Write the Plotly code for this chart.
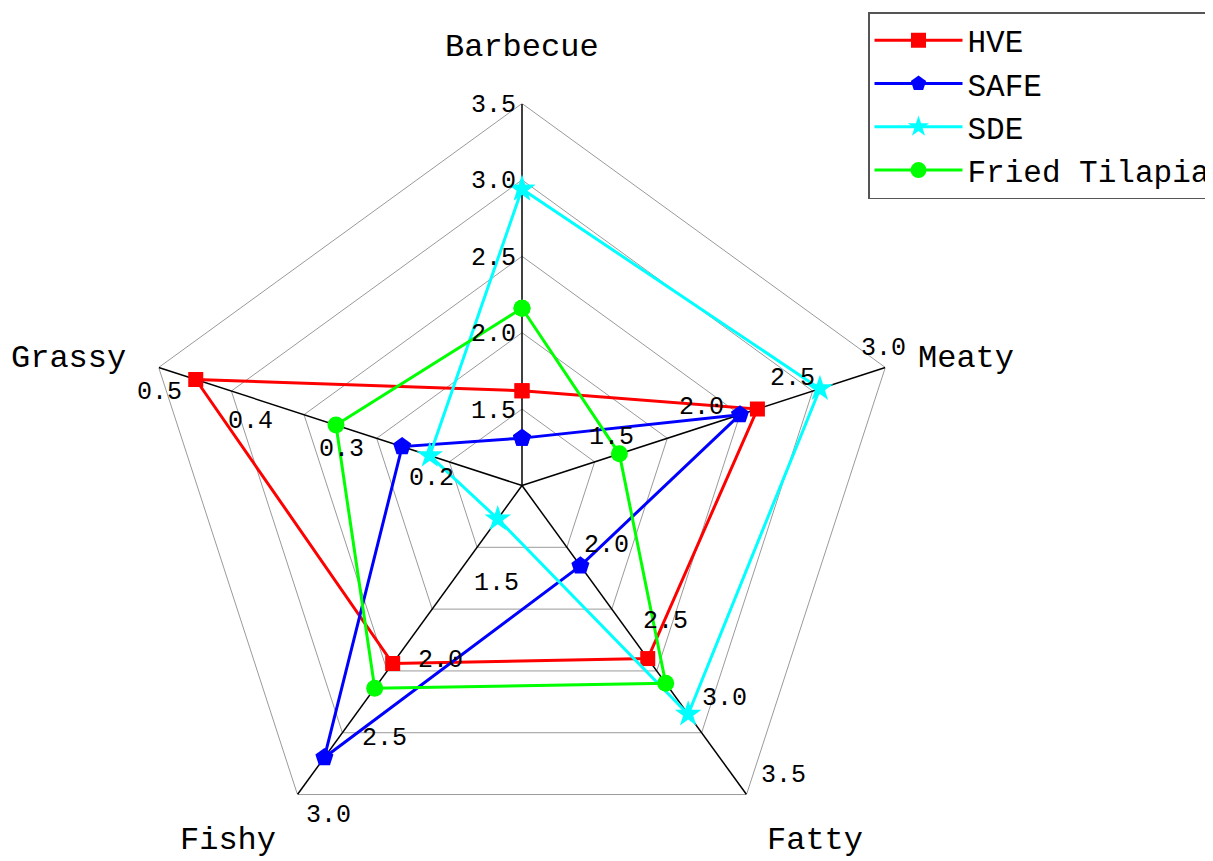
import math
import plotly.graph_objects as go

# ---- data ----
categories = ["Barbecue", "Meaty", "Fatty", "Fishy", "Grassy"]
axis_min = [1.0, 0.5, 1.0, 0.5, 0.0]
axis_max = [3.5, 3.0, 3.5, 3.0, 0.5]
hve = [1.62, 2.12, 2.40, 1.94, 0.449]
safe = [1.31, 2.00, 1.65, 2.70, 0.165]
sde = [2.94, 2.55, 2.85, 0.77, 0.127]
fried_tilapia = [2.16, 1.17, 2.60, 2.14, 0.256]
ticks_barbecue = [1.5, 2.0, 2.5, 3.0, 3.5]
ticks_meaty = [1.5, 2.0, 2.5, 3.0]
ticks_fatty = [2.0, 2.5, 3.0, 3.5]
ticks_fishy = [1.5, 2.0, 2.5, 3.0]
ticks_grassy = [0.2, 0.3, 0.4, 0.5]

# ---- geometry / style ----
W, H = 1213, 861
PAGE_OFF = 8          # browser body margin
angles = [90, 18, -54, -126, 162]
NR = 5                # number of rings
RPX = 382             # outer ring radius in px
CX, CY = 522 - PAGE_OFF, 485.5 - PAGE_OFF
PX = RPX / NR
FONT = "Liberation Mono"

def norm(i, v):
    return NR * (v - axis_min[i]) / (axis_max[i] - axis_min[i])

fig = go.Figure()

# rings
for k in range(1, NR + 1):
    fig.add_trace(go.Scatterpolar(
        r=[k] * 6, theta=angles + [angles[0]], mode="lines",
        line=dict(color="#9a9a9a", width=1), showlegend=False,
        hoverinfo="skip", cliponaxis=False))
# spokes
for a in angles:
    fig.add_trace(go.Scatterpolar(
        r=[0, NR], theta=[a, a], mode="lines",
        line=dict(color="black", width=1.5), showlegend=False,
        hoverinfo="skip", cliponaxis=False))

# tick labels (offsets in image px as function of ring distance from outer)
def off_barbecue(d): return (-29, 2)
def off_meaty(d): return (-2 - 18 * d, -19 + 6 * d)
def off_fatty(d): return (37 - 14 * d, -19 - 15 * d)
def off_fishy(d): return (31 + 11 * d, 21 - 15.5 * d)
def off_grassy(d): return (1 + 18 * d, 25 + 5 * d)

tick_sets = [ticks_barbecue, ticks_meaty, ticks_fatty, ticks_fishy, ticks_grassy]
offsets = [off_barbecue, off_meaty, off_fatty, off_fishy, off_grassy]
for i, (ts, off) in enumerate(zip(tick_sets, offsets)):
    a = math.radians(angles[i])
    for t in ts:
        k = norm(i, t)
        dx, dy = off(NR - k)
        px = CX + k * PX * math.cos(a) + dx
        py = CY - k * PX * math.sin(a) + dy
        fig.add_annotation(x=px / W, y=1 - py / H, xref="paper", yref="paper",
                           xanchor="center", yanchor="middle", showarrow=False,
                           text=f"{t:.1f}",
                           font=dict(family=FONT, size=25, color="black"))

# data series
series = [
    ("HVE", hve, "#ff0000", "square", 15),
    ("SAFE", safe, "#0000ff", "pentagon", 19),
    ("SDE", sde, "#00ffff", "star", 20),
    ("Fried Tilapia", fried_tilapia, "#00ff00", "circle", 17),
]
for name, vals, col, sym, sz in series:
    r = [norm(i, v) for i, v in enumerate(vals)]
    fig.add_trace(go.Scatterpolar(
        r=r + [r[0]], theta=angles + [angles[0]], name=name,
        mode="lines+markers", line=dict(color=col, width=3),
        marker=dict(symbol=sym, size=sz, color=col), cliponaxis=False))

# category labels (page pixel centres)
cat_pos = [(522, 48), (966, 358), (815, 840), (228, 840), (68, 358)]
for c, (px, py) in zip(categories, cat_pos):
    fig.add_annotation(x=(px - PAGE_OFF) / W, y=1 - (py - PAGE_OFF) / H,
                       xref="paper", yref="paper", xanchor="center", yanchor="middle",
                       text=c, showarrow=False,
                       font=dict(family=FONT, size=32, color="black"))

fig.update_layout(
    width=W, height=H,
    margin=dict(l=0, r=0, t=0, b=0),
    paper_bgcolor="white", plot_bgcolor="white",
    polar=dict(
        domain=dict(x=[(CX - RPX) / W, (CX + RPX) / W],
                    y=[(H - CY - RPX) / H, (H - CY + RPX) / H]),
        bgcolor="rgba(0,0,0,0)",
        radialaxis=dict(range=[0, NR], visible=False),
        angularaxis=dict(visible=False, rotation=0, direction="counterclockwise"),
    ),
    legend=dict(x=(868 - PAGE_OFF) / W, y=1 - (12 - PAGE_OFF) / H,
                xanchor="left", yanchor="top",
                bordercolor="#555555", borderwidth=1.5, bgcolor="white",
                font=dict(family=FONT, size=31, color="black"),
                tracegroupgap=0, itemwidth=88),
    showlegend=True,
)

fig.write_html("out.html")
